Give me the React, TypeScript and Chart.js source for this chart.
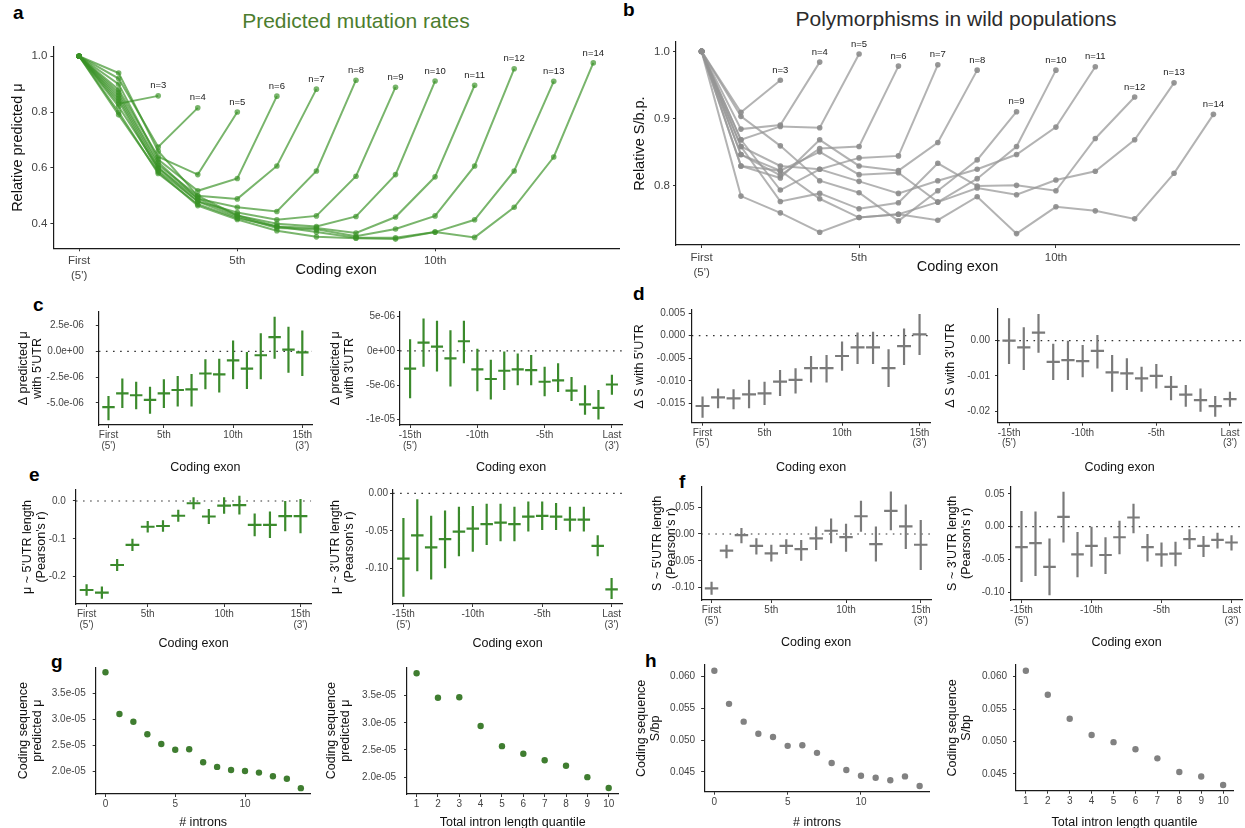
import React, { useEffect, useRef } from "react";
import { Chart, registerables } from "chart.js";

Chart.register(...registerables);

const FONT = "'Liberation Sans', Arial, Helvetica, sans-serif";

// ---------------- Panel a: predicted mutation rate (relative), by exon count n ----------------
const predN3 = [1.0, 0.83, 0.858];
const predN4 = [1.0, 0.92, 0.675, 0.815];
const predN5 = [1.0, 0.88, 0.64, 0.576, 0.8];
const predN6 = [1.0, 0.9, 0.63, 0.518, 0.562, 0.857];
const predN7 = [1.0, 0.86, 0.61, 0.5, 0.489, 0.607, 0.882];
const predN8 = [1.0, 0.85, 0.6, 0.49, 0.459, 0.444, 0.589, 0.914];
const predN9 = [1.0, 0.84, 0.59, 0.48, 0.44, 0.414, 0.428, 0.57, 0.889];
const predN10 = [1.0, 0.87, 0.62, 0.49, 0.43, 0.4, 0.39, 0.426, 0.576, 0.911];
const predN11 = [1.0, 0.8, 0.58, 0.47, 0.42, 0.39, 0.385, 0.367, 0.424, 0.568, 0.896];
const predN12 = [1.0, 0.82, 0.6, 0.48, 0.425, 0.385, 0.38, 0.355, 0.381, 0.428, 0.607, 0.955];
const predN13 = [1.0, 0.94, 0.66, 0.5, 0.43, 0.39, 0.37, 0.35, 0.35, 0.37, 0.414, 0.589, 0.91];
const predN14 = [1.0, 0.79, 0.585, 0.465, 0.415, 0.375, 0.353, 0.348, 0.345, 0.37, 0.351, 0.459, 0.639, 0.976];
const predictedSeries = [predN3, predN4, predN5, predN6, predN7, predN8, predN9, predN10, predN11, predN12, predN13, predN14];

// ---------------- Panel b: polymorphisms (relative S/b.p.) ----------------
const polyN3 = [1.0, 0.909, 0.957];
const polyN4 = [1.0, 0.884, 0.89, 0.984];
const polyN5 = [1.0, 0.868, 0.888, 0.886, 0.996];
const polyN6 = [1.0, 0.846, 0.815, 0.855, 0.858, 0.978];
const polyN7 = [1.0, 0.858, 0.829, 0.824, 0.841, 0.844, 0.98];
const polyN8 = [1.0, 0.829, 0.811, 0.868, 0.829, 0.822, 0.864, 0.972];
const polyN9 = [1.0, 0.903, 0.859, 0.807, 0.789, 0.747, 0.792, 0.838, 0.91];
const polyN10 = [1.0, 0.846, 0.822, 0.85, 0.816, 0.819, 0.775, 0.81, 0.858, 0.972];
const polyN11 = [1.0, 0.868, 0.793, 0.824, 0.806, 0.788, 0.807, 0.824, 0.846, 0.887, 0.977];
const polyN12 = [1.0, 0.858, 0.776, 0.788, 0.765, 0.774, 0.833, 0.799, 0.8, 0.792, 0.87, 0.932];
const polyN13 = [1.0, 0.829, 0.822, 0.78, 0.752, 0.757, 0.775, 0.796, 0.786, 0.808, 0.821, 0.868, 0.953];
const polyN14 = [1.0, 0.784, 0.759, 0.73, 0.752, 0.757, 0.748, 0.783, 0.728, 0.768, 0.762, 0.75, 0.818, 0.906];
const polySeries = [polyN3, polyN4, polyN5, polyN6, polyN7, polyN8, polyN9, polyN10, polyN11, polyN12, polyN13, polyN14];

const seriesLabels = ["n=3", "n=4", "n=5", "n=6", "n=7", "n=8", "n=9", "n=10", "n=11", "n=12", "n=13", "n=14"];

// ---------------- categories ----------------
const exonFrom5 = [1, 2, 3, 4, 5, 6, 7, 8, 9, 10, 11, 12, 13, 14, 15];
const exonFrom3 = [-15, -14, -13, -12, -11, -10, -9, -8, -7, -6, -5, -4, -3, -2, -1, 0];
const intronCounts = [0, 1, 2, 3, 4, 5, 6, 7, 8, 9, 10, 11, 12, 13, 14];
const lengthQuantiles = [1, 2, 3, 4, 5, 6, 7, 8, 9, 10];

// ---------------- Panel c ----------------
const cLeftMid = [-5.42e-6, -4.07e-6, -4.26e-6, -4.71e-6, -4.07e-6, -3.75e-6, -3.69e-6, -2.15e-6, -2.24e-6, -0.87e-6, -1.67e-6, -0.38e-6, 1.38e-6, 0.16e-6, -0.1e-6];
const cLeftLo = [-6.7e-6, -5.51e-6, -5.61e-6, -6.06e-6, -5.51e-6, -5.35e-6, -5.35e-6, -3.69e-6, -4.0e-6, -2.72e-6, -3.65e-6, -2.72e-6, -0.71e-6, -2.08e-6, -2.4e-6];
const cLeftHi = [-4.33e-6, -2.63e-6, -2.95e-6, -3.43e-6, -2.72e-6, -2.4e-6, -2.21e-6, -0.77e-6, -0.71e-6, 1.06e-6, -0.06e-6, 1.76e-6, 3.37e-6, 2.4e-6, 2.02e-6];
const cRightMid = [-2.6e-6, 1.2e-6, 0.6e-6, -1.1e-6, 1.4e-6, -2.7e-6, -4.1e-6, -2.9e-6, -2.7e-6, -2.8e-6, -4.5e-6, -4.3e-6, -5.8e-6, -7.8e-6, -8.3e-6, -4.9e-6];
const cRightLo = [-6.9e-6, -2.3e-6, -3.0e-6, -5.2e-6, -1.8e-6, -5.9e-6, -7.1e-6, -5.7e-6, -5.0e-6, -5.0e-6, -6.6e-6, -6.0e-6, -7.3e-6, -9.3e-6, -10.0e-6, -6.4e-6];
const cRightHi = [1.7e-6, 4.7e-6, 4.4e-6, 3.0e-6, 4.4e-6, 0.3e-6, -1.3e-6, -0.1e-6, -0.4e-6, -0.6e-6, -2.3e-6, -1.8e-6, -3.8e-6, -5.0e-6, -5.7e-6, -3.5e-6];

// ---------------- Panel d ----------------
const dLeftMid = [-0.0156, -0.0137, -0.0139, -0.013, -0.0128, -0.0102, -0.0098, -0.0072, -0.0072, -0.0045, -0.0026, -0.0026, -0.0072, -0.0023, 0.0003];
const dLeftLo = [-0.0182, -0.0161, -0.0163, -0.0161, -0.0154, -0.0134, -0.0128, -0.0104, -0.0104, -0.0078, -0.0063, -0.0063, -0.0114, -0.0065, -0.0043];
const dLeftHi = [-0.0135, -0.0117, -0.0119, -0.0098, -0.0102, -0.0076, -0.0072, -0.0045, -0.0043, -0.0013, 0.0007, 0.0009, -0.003, 0.0016, 0.0048];
const dRightMid = [0.0, -0.0019, 0.0023, -0.006, -0.0055, -0.0058, -0.0029, -0.009, -0.0093, -0.0107, -0.01, -0.0131, -0.0153, -0.0169, -0.0186, -0.0166];
const dRightLo = [-0.0066, -0.0083, -0.0034, -0.0112, -0.0112, -0.0104, -0.0079, -0.0145, -0.014, -0.0145, -0.0136, -0.0169, -0.0188, -0.0202, -0.0216, -0.0188];
const dRightHi = [0.0064, 0.0038, 0.0076, -0.0009, 0.0, -0.0012, 0.0016, -0.0041, -0.005, -0.0074, -0.0066, -0.01, -0.0126, -0.0136, -0.0157, -0.0145];

// ---------------- Panel e ----------------
const eLeftMid = [-0.235, -0.242, -0.169, -0.116, -0.068, -0.066, -0.039, -0.006, -0.041, -0.012, -0.011, -0.063, -0.063, -0.04, -0.04];
const eLeftLo = [-0.25, -0.258, -0.185, -0.132, -0.083, -0.081, -0.055, -0.022, -0.061, -0.034, -0.036, -0.093, -0.098, -0.08, -0.085];
const eLeftHi = [-0.22, -0.226, -0.153, -0.1, -0.053, -0.051, -0.023, 0.01, -0.021, 0.01, 0.014, -0.033, -0.028, 0.0, 0.005];
const eRightMid = [-0.087, -0.056, -0.072, -0.061, -0.051, -0.047, -0.041, -0.039, -0.041, -0.031, -0.03, -0.031, -0.035, -0.035, -0.07, -0.128];
const eRightLo = [-0.138, -0.104, -0.115, -0.1, -0.084, -0.078, -0.069, -0.064, -0.064, -0.051, -0.049, -0.049, -0.051, -0.051, -0.084, -0.141];
const eRightHi = [-0.033, -0.008, -0.03, -0.023, -0.018, -0.017, -0.014, -0.014, -0.018, -0.011, -0.011, -0.013, -0.018, -0.018, -0.056, -0.113];

// ---------------- Panel f ----------------
const fLeftMid = [-0.101, -0.031, -0.002, -0.022, -0.036, -0.022, -0.028, -0.008, 0.006, -0.006, 0.033, -0.019, 0.043, 0.014, -0.02];
const fLeftLo = [-0.113, -0.045, -0.017, -0.038, -0.051, -0.037, -0.05, -0.03, -0.017, -0.033, 0.004, -0.051, 0.007, -0.028, -0.067];
const fLeftHi = [-0.089, -0.02, 0.011, -0.008, -0.02, -0.01, -0.011, 0.014, 0.029, 0.019, 0.062, 0.014, 0.079, 0.055, 0.026];
const fRightMid = [-0.031, -0.025, -0.061, 0.015, -0.042, -0.029, -0.043, -0.016, 0.014, -0.031, -0.042, -0.041, -0.019, -0.029, -0.02, -0.024];
const fRightLo = [-0.084, -0.075, -0.104, -0.024, -0.077, -0.061, -0.072, -0.042, -0.01, -0.053, -0.061, -0.06, -0.034, -0.046, -0.033, -0.036];
const fRightHi = [0.024, 0.023, -0.018, 0.053, -0.008, 0.0, -0.016, 0.009, 0.035, -0.011, -0.024, -0.023, -0.004, -0.014, -0.009, -0.013];

// ---------------- Panel g / h ----------------
const gByIntrons = [3.905e-5, 3.1e-5, 2.95e-5, 2.71e-5, 2.52e-5, 2.41e-5, 2.42e-5, 2.17e-5, 2.08e-5, 2.02e-5, 2.0e-5, 1.97e-5, 1.9e-5, 1.85e-5, 1.67e-5];
const gByLength = [3.91e-5, 3.46e-5, 3.47e-5, 2.94e-5, 2.57e-5, 2.43e-5, 2.31e-5, 2.21e-5, 2.0e-5, 1.8e-5];
const hByIntrons = [0.0609, 0.0557, 0.0529, 0.051, 0.0505, 0.0491, 0.0492, 0.048, 0.0464, 0.0453, 0.0444, 0.0441, 0.0437, 0.0443, 0.0428];
const hByLength = [0.0609, 0.0572, 0.0535, 0.051, 0.0499, 0.0488, 0.0474, 0.0453, 0.0446, 0.0433];

// ---------------- ticks ----------------
type Lbl = string | string[];
const exonTicksA = [1, 5, 10];
const exonTickLabelsA: Lbl[] = [["First", "(5')"], "5th", "10th"];
const exonTicks5 = [1, 5, 10, 15];
const exonTickLabels5: Lbl[] = [["First", "(5')"], "5th", "10th", ["15th", "(3')"]];
const exonTicks3 = [-15, -10, -5, 0];
const exonTickLabels3: Lbl[] = [["-15th", "(5')"], "-10th", "-5th", ["Last", "(3')"]];
const relTicksA = [0.4, 0.6, 0.8, 1.0];
const relLabelsA = ["0.4", "0.6", "0.8", "1.0"];
const relTicksB = [0.8, 0.9, 1.0];
const relLabelsB = ["0.8", "0.9", "1.0"];
const cLeftTicks = [-5e-6, -2.5e-6, 0, 2.5e-6];
const cLeftLabels = ["-5.0e-06", "-2.5e-06", "0.0e+00", "2.5e-06"];
const cRightTicks = [-1e-5, -5e-6, 0, 5e-6];
const cRightLabels = ["-1e-05", "-5e-06", "0e+00", "5e-06"];
const dLeftTicks = [-0.015, -0.01, -0.005, 0, 0.005];
const dLeftLabels = ["-0.015", "-0.010", "-0.005", "0.000", "0.005"];
const dRightTicks = [-0.02, -0.01, 0];
const dRightLabels = ["-0.02", "-0.01", "0.00"];
const eLeftTicks = [-0.2, -0.1, 0];
const eLeftLabels = ["-0.2", "-0.1", "0.0"];
const eRightTicks = [-0.1, -0.05, 0];
const eRightLabels = ["-0.10", "-0.05", "0.00"];
const fTicks = [-0.1, -0.05, 0, 0.05];
const fLabels = ["-0.10", "-0.05", "0.00", "0.05"];
const gTicks = [2.0e-5, 2.5e-5, 3.0e-5, 3.5e-5];
const gLabels = ["2.0e-05", "2.5e-05", "3.0e-05", "3.5e-05"];
const hTicks = [0.045, 0.05, 0.055, 0.06];
const hLabels = ["0.045", "0.050", "0.055", "0.060"];
const intronTicks = [0, 5, 10];
const intronLabels = ["0", "5", "10"];
const quantileLabels = ["1", "2", "3", "4", "5", "6", "7", "8", "9", "10"];

// ---------------- styles ----------------
const GREEN_LINE = "rgba(58,146,38,0.68)";
const GREEN_CROSS = "#3b8a2c";
const GREEN_DOT = "#3f7d30";
const GRAY_LINE = "rgba(150,150,150,0.72)";
const GRAY_PT = "rgba(140,140,140,0.9)";
const GRAY_CROSS = "#7a7a7a";
const GRAY_DOT = "#818181";
const CROSS_HALF = 0.45;
const TITLE_EXTRA = 12;

const SMALL = { tick: 10, tickLH: 1.05, title: 12.5, titleLH: 1.1, yPad: 2.5 };
const BIG = { tick: 11.5, tickLH: 1.3, title: 14.5, titleLH: 1.2, yPad: 3 };

interface AxisSpec {
  min: number;
  max: number;
  ticks: number[];
  labels: Lbl[];
  title: Lbl;
}
interface PanelSpec {
  id: string;
  plot: [number, number, number, number];
  left: number;
  bottom: number;
  padTop: number;
  padRight: number;
  yPad?: number;
  big?: boolean;
  x: AxisSpec;
  y: AxisSpec;
  datasets: any[];
  endLabels?: string[];
}

function lineSeries(series: number[][], line: string, pt: string) {
  return series.map((ys) => ({
    data: ys.map((y, i) => ({ x: exonFrom5[i], y })),
    borderColor: line,
    backgroundColor: pt,
    pointBackgroundColor: pt,
    pointBorderWidth: 0,
    pointRadius: 2.8,
    borderWidth: 2,
    tension: 0,
  }));
}

function crossSeries(xs: number[], mid: number[], lo: number[], hi: number[], color: string, xr: [number, number]) {
  const vert: any[] = [];
  const horiz: any[] = [];
  xs.forEach((x, i) => {
    vert.push({ x, y: lo[i] }, { x, y: hi[i] }, { x, y: null });
    horiz.push({ x: x - CROSS_HALF, y: mid[i] }, { x: x + CROSS_HALF, y: mid[i] }, { x, y: null });
  });
  return [
    { data: [{ x: xr[0], y: 0 }, { x: xr[1], y: 0 }], borderColor: "#333", borderWidth: 1.2, borderDash: [1.6, 5.5], pointRadius: 0, order: 2 },
    { data: vert, borderColor: color, borderWidth: 2.2, pointRadius: 0, spanGaps: false, order: 1 },
    { data: horiz, borderColor: color, borderWidth: 2.2, pointRadius: 0, spanGaps: false, order: 0 },
  ];
}

function dotSeries(xs: number[], ys: number[], color: string) {
  return [
    {
      data: xs.map((x, i) => ({ x, y: ys[i] })),
      showLine: false,
      pointRadius: 3.2,
      pointBorderWidth: 0,
      pointBackgroundColor: color,
      backgroundColor: color,
    },
  ];
}

const endLabelPlugin = {
  id: "endLabels",
  afterDatasetsDraw(chart: any, _args: any, opts: any) {
    if (!opts || !opts.labels) return;
    const ctx = chart.ctx;
    ctx.save();
    ctx.font = `${opts.size}px ${FONT}`;
    ctx.fillStyle = opts.color;
    ctx.textAlign = "center";
    ctx.textBaseline = "middle";
    chart.data.datasets.forEach((_ds: any, i: number) => {
      const meta = chart.getDatasetMeta(i);
      const el = meta.data[meta.data.length - 1];
      if (el && opts.labels[i]) ctx.fillText(opts.labels[i], el.x, el.y - opts.offset);
    });
    ctx.restore();
  },
};

function makeScale(axis: "x" | "y", a: AxisSpec, size: number, f: typeof SMALL, yPad: number) {
  return {
    type: "linear",
    position: axis === "x" ? "bottom" : "left",
    min: a.min,
    max: a.max,
    bounds: "data",
    afterBuildTicks: (s: any) => {
      s.ticks = a.ticks.map((v) => ({ value: v }));
    },
    afterFit: (s: any) => {
      if (axis === "x") {
        s.height = size;
        s.paddingLeft = 0;
        s.paddingRight = 0;
      } else {
        s.width = size;
        s.paddingTop = 0;
        s.paddingBottom = 0;
      }
    },
    ticks: {
      autoSkip: false,
      maxRotation: 0,
      minRotation: 0,
      padding: axis === "x" ? 2 : yPad,
      color: "#444",
      font: { family: FONT, size: f.tick, lineHeight: f.tickLH },
      callback: (_v: any, i: number) => a.labels[i],
    },
    grid: { display: true, drawOnChartArea: false, drawTicks: true, tickLength: 3, color: "#333", lineWidth: 1 },
    border: { display: true, color: "#1a1a1a", width: 1.2 },
    title: {
      display: true,
      text: a.title,
      color: "#111",
      padding: axis === "x" ? { top: 0, bottom: TITLE_EXTRA } : 0,
      font: { family: FONT, size: f.title, lineHeight: f.titleLH },
    },
  };
}

function buildConfig(p: PanelSpec) {
  const [x0, y0, x1, y1] = p.plot;
  const cl = Math.round(p.left);
  const ct = Math.round(y0 - p.padTop);
  const cr = Math.round(x1 + p.padRight);
  const cb = Math.round(p.bottom + TITLE_EXTRA);
  const f = p.big ? BIG : SMALL;
  const yPad = p.yPad !== undefined ? p.yPad : f.yPad;
  const config: any = {
    type: "line",
    data: { datasets: p.datasets },
    options: {
      responsive: false,
      animation: false,
      events: [],
      layout: { autoPadding: false, padding: { top: y0 - ct, right: cr - x1, left: 0, bottom: 0 } },
      scales: {
        x: makeScale("x", p.x, cb - y1, f, yPad),
        y: makeScale("y", p.y, x0 - cl, f, yPad),
      },
      plugins: {
        legend: { display: false },
        tooltip: { enabled: false },
        endLabels: p.endLabels ? { labels: p.endLabels, size: 9.5, color: "#222", offset: 10 } : false,
      },
    },
    plugins: [endLabelPlugin],
  };
  return { canvas: { left: cl, top: ct, width: cr - cl, height: cb - ct }, config };
}

const xr5: [number, number] = [0.3, 15.7];
const xr3: [number, number] = [-15.75, 0.75];

const panels: PanelSpec[] = [
  {
    id: "a",
    big: true,
    plot: [53.4, 47, 619, 248.3],
    left: 9.4,
    bottom: 279,
    padTop: 7,
    padRight: 6,
    x: { min: 0.35, max: 14.65, ticks: exonTicksA, labels: exonTickLabelsA, title: "Coding exon" },
    y: { min: 0.312, max: 1.033, ticks: relTicksA, labels: relLabelsA, title: "Relative predicted μ" },
    datasets: lineSeries(predictedSeries, GREEN_LINE, GREEN_LINE),
    endLabels: seriesLabels,
  },
  {
    id: "b",
    big: true,
    plot: [676, 42, 1239, 245],
    left: 631.3,
    bottom: 276,
    padTop: 7,
    padRight: 6,
    x: { min: 0.35, max: 14.65, ticks: exonTicksA, labels: exonTickLabelsA, title: "Coding exon" },
    y: { min: 0.711, max: 1.014, ticks: relTicksB, labels: relLabelsB, title: "Relative S/b.p." },
    datasets: lineSeries(polySeries, GRAY_LINE, GRAY_PT),
    endLabels: seriesLabels,
  },
  {
    id: "cL",
    plot: [98.8, 311.7, 312, 425],
    left: 17.1,
    bottom: 473.6,
    padTop: 4,
    padRight: 4,
    yPad: 12,
    x: { min: xr5[0], max: xr5[1], ticks: exonTicks5, labels: exonTickLabels5, title: "Coding exon" },
    y: { min: -7.15e-6, max: 3.85e-6, ticks: cLeftTicks, labels: cLeftLabels, title: ["Δ predicted μ", "with 5'UTR"] },
    datasets: crossSeries(exonFrom5, cLeftMid, cLeftLo, cLeftHi, GREEN_CROSS, xr5),
  },
  {
    id: "cR",
    plot: [400, 311.7, 622, 425],
    left: 329.1,
    bottom: 473.6,
    padTop: 4,
    padRight: 3,
    yPad: 2,
    x: { min: xr3[0], max: xr3[1], ticks: exonTicks3, labels: exonTickLabels3, title: "Coding exon" },
    y: { min: -10.8e-6, max: 5.7e-6, ticks: cRightTicks, labels: cRightLabels, title: ["Δ predicted μ", "with 3'UTR"] },
    datasets: crossSeries(exonFrom3, cRightMid, cRightLo, cRightHi, GREEN_CROSS, xr3),
  },
  {
    id: "dL",
    plot: [691.7, 310, 930.4, 422.7],
    left: 633.1,
    bottom: 473.6,
    padTop: 4,
    padRight: 4,
    yPad: 3.5,
    x: { min: xr5[0], max: xr5[1], ticks: exonTicks5, labels: exonTickLabels5, title: "Coding exon" },
    y: { min: -0.0193, max: 0.0057, ticks: dLeftTicks, labels: dLeftLabels, title: "Δ S with 5'UTR" },
    datasets: crossSeries(exonFrom5, dLeftMid, dLeftLo, dLeftHi, GRAY_CROSS, xr5),
  },
  {
    id: "dR",
    plot: [998, 308.3, 1241, 422.7],
    left: 943.8,
    bottom: 473.6,
    padTop: 4,
    padRight: 4,
    yPad: 5,
    x: { min: xr3[0], max: xr3[1], ticks: exonTicks3, labels: exonTickLabels3, title: "Coding exon" },
    y: { min: -0.0233, max: 0.0092, ticks: dRightTicks, labels: dRightLabels, title: "Δ S with 3'UTR" },
    datasets: crossSeries(exonFrom3, dRightMid, dRightLo, dRightHi, GRAY_CROSS, xr3),
  },
  {
    id: "eL",
    plot: [75.9, 490, 311.2, 604],
    left: 20.8,
    bottom: 650.2,
    padTop: 4,
    padRight: 4,
    yPad: 7,
    x: { min: xr5[0], max: xr5[1], ticks: exonTicks5, labels: exonTickLabels5, title: "Coding exon" },
    y: { min: -0.272, max: 0.029, ticks: eLeftTicks, labels: eLeftLabels, title: ["μ ~ 5'UTR length", "(Pearson's r)"] },
    datasets: crossSeries(exonFrom5, eLeftMid, eLeftLo, eLeftHi, GREEN_CROSS, xr5),
  },
  {
    id: "eR",
    plot: [393, 490, 622, 604],
    left: 329.1,
    bottom: 650.2,
    padTop: 4,
    padRight: 3,
    yPad: 2,
    x: { min: xr3[0], max: xr3[1], ticks: exonTicks3, labels: exonTickLabels3, title: "Coding exon" },
    y: { min: -0.1476, max: 0.0044, ticks: eRightTicks, labels: eRightLabels, title: ["μ ~ 3'UTR length", "(Pearson's r)"] },
    datasets: crossSeries(exonFrom3, eRightMid, eRightLo, eRightHi, GREEN_CROSS, xr3),
  },
  {
    id: "fL",
    plot: [701.1, 486.7, 931.2, 600],
    left: 650.9,
    bottom: 648.6,
    padTop: 4,
    padRight: 4,
    yPad: 3.5,
    x: { min: xr5[0], max: xr5[1], ticks: exonTicks5, labels: exonTickLabels5, title: "Coding exon" },
    y: { min: -0.1228, max: 0.088, ticks: fTicks, labels: fLabels, title: ["S ~ 5'UTR length", "(Pearson's r)"] },
    datasets: crossSeries(exonFrom5, fLeftMid, fLeftLo, fLeftHi, GRAY_CROSS, xr5),
  },
  {
    id: "fR",
    plot: [1011, 486.7, 1242, 600],
    left: 945.8,
    bottom: 648.6,
    padTop: 4,
    padRight: 3,
    yPad: 3.5,
    x: { min: xr3[0], max: xr3[1], ticks: exonTicks3, labels: exonTickLabels3, title: "Coding exon" },
    y: { min: -0.1114, max: 0.0608, ticks: fTicks, labels: fLabels, title: ["S ~ 3'UTR length", "(Pearson's r)"] },
    datasets: crossSeries(exonFrom3, fRightMid, fRightLo, fRightHi, GRAY_CROSS, xr3),
  },
  {
    id: "gL",
    plot: [95.7, 667.3, 310.6, 794],
    left: 16.8,
    bottom: 828.6,
    padTop: 4,
    padRight: 4,
    yPad: 7,
    x: { min: -0.7, max: 14.7, ticks: intronTicks, labels: intronLabels, title: "# introns" },
    y: { min: 1.557e-5, max: 4.0e-5, ticks: gTicks, labels: gLabels, title: ["Coding sequence", "predicted μ"] },
    datasets: dotSeries(intronCounts, gByIntrons, GREEN_DOT),
  },
  {
    id: "gR",
    plot: [407, 667.3, 618.3, 794],
    left: 325.1,
    bottom: 828.6,
    padTop: 4,
    padRight: 4,
    yPad: 8,
    x: { min: 0.55, max: 10.45, ticks: lengthQuantiles, labels: quantileLabels, title: "Total intron length quantile" },
    y: { min: 1.69e-5, max: 4.02e-5, ticks: gTicks, labels: gLabels, title: ["Coding sequence", "predicted μ"] },
    datasets: dotSeries(lengthQuantiles, gByLength, GREEN_DOT),
  },
  {
    id: "hL",
    plot: [704.1, 665, 929.9, 791.7],
    left: 635.1,
    bottom: 828.6,
    padTop: 4,
    padRight: 4,
    yPad: 6,
    x: { min: -0.7, max: 14.7, ticks: intronTicks, labels: intronLabels, title: "# introns" },
    y: { min: 0.0419, max: 0.0618, ticks: hTicks, labels: hLabels, title: ["Coding sequence", "S/bp"] },
    datasets: dotSeries(intronCounts, hByIntrons, GRAY_DOT),
  },
  {
    id: "hR",
    plot: [1016, 665, 1233, 790.7],
    left: 945.8,
    bottom: 828.6,
    padTop: 4,
    padRight: 6,
    yPad: 6,
    x: { min: 0.55, max: 10.45, ticks: lengthQuantiles, labels: quantileLabels, title: "Total intron length quantile" },
    y: { min: 0.04242, max: 0.06178, ticks: hTicks, labels: hLabels, title: ["Coding sequence", "S/bp"] },
    datasets: dotSeries(lengthQuantiles, hByLength, GRAY_DOT),
  },
];

function ChartCanvas({ spec }: { spec: PanelSpec }) {
  const ref = useRef<HTMLCanvasElement | null>(null);
  const built = buildConfig(spec);
  useEffect(() => {
    if (!ref.current) return;
    const chart = new Chart(ref.current, built.config);
    return () => chart.destroy();
  }, []);
  const c = built.canvas;
  return (
    <canvas
      ref={ref}
      width={c.width}
      height={c.height}
      style={{ position: "absolute", left: c.left, top: c.top, width: c.width, height: c.height }}
    />
  );
}

const panelLetters: { t: string; x: number; y: number }[] = [
  { t: "a", x: 13, y: 3 },
  { t: "b", x: 623, y: 0 },
  { t: "c", x: 33, y: 295 },
  { t: "d", x: 633, y: 284 },
  { t: "e", x: 29, y: 465 },
  { t: "f", x: 679, y: 472 },
  { t: "g", x: 51, y: 652 },
  { t: "h", x: 645, y: 651 },
];

export default function App() {
  return (
    <div
      style={{
        position: "fixed",
        left: 0,
        top: 0,
        width: 1245,
        height: 828,
        overflow: "hidden",
        background: "#ffffff",
        fontFamily: FONT,
      }}
    >
      <div
        style={{
          position: "absolute",
          left: 156,
          top: 10,
          width: 400,
          textAlign: "center",
          fontSize: 21,
          lineHeight: "21px",
          color: "#4c7d2e",
        }}
      >
        Predicted mutation rates
      </div>
      <div
        style={{
          position: "absolute",
          left: 756,
          top: 8,
          width: 400,
          textAlign: "center",
          fontSize: 21,
          lineHeight: "21px",
          color: "#2b2b2b",
        }}
      >
        Polymorphisms in wild populations
      </div>
      {panelLetters.map((l) => (
        <div
          key={l.t}
          style={{
            position: "absolute",
            left: l.x,
            top: l.y,
            fontSize: 19,
            lineHeight: "19px",
            fontWeight: "bold",
            color: "#000",
          }}
        >
          {l.t}
        </div>
      ))}
      {panels.map((p) => (
        <ChartCanvas key={p.id} spec={p} />
      ))}
    </div>
  );
}
